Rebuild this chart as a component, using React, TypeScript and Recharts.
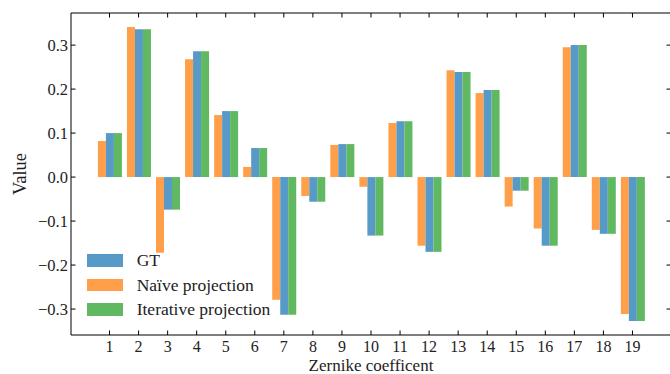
import React from 'react';
import { BarChart, Bar, XAxis, YAxis, Legend, Label } from 'recharts';

// Zernike coefficients 1..19
const categories = ['1', '2', '3', '4', '5', '6', '7', '8', '9', '10', '11', '12', '13', '14', '15', '16', '17', '18', '19'];
const naiveValues = [0.082, 0.341, -0.172, 0.268, 0.141, 0.023, -0.279, -0.043, 0.073, -0.022, 0.123, -0.156, 0.243, 0.191, -0.067, -0.117, 0.295, -0.12, -0.311];
const gtValues = [0.1, 0.336, -0.074, 0.286, 0.15, 0.066, -0.313, -0.056, 0.075, -0.133, 0.127, -0.17, 0.239, 0.198, -0.031, -0.156, 0.3, -0.129, -0.327];
const iterativeValues = [0.1, 0.336, -0.074, 0.286, 0.15, 0.066, -0.313, -0.056, 0.075, -0.133, 0.127, -0.17, 0.239, 0.198, -0.031, -0.156, 0.3, -0.129, -0.327];
const yTicks = [-0.3, -0.2, -0.1, 0, 0.1, 0.2, 0.3];

const data = categories.map((c, i) => ({
  name: c,
  naive: naiveValues[i],
  gt: gtValues[i],
  iterative: iterativeValues[i],
}));

const FONT = '"Liberation Serif", "DejaVu Serif", serif';
const TEXT = '#222';
const BLUE = '#5799c7';
const ORANGE = '#ff9f4a';
const GREEN = '#60b860';
const TICK_LEN = 4.5;

const fmt = (v: number) => v.toFixed(1).replace('-', '\u2212');

const LeftTick = ({ x, y, payload }: any) => (
  <g>
    <line x1={x} y1={y} x2={x + TICK_LEN} y2={y} stroke="#000" />
    <text x={x - 3} y={y} textAnchor="end" dominantBaseline="central" style={{ fontFamily: FONT, fontSize: 16.5 }} fill={TEXT}>
      {fmt(payload.value)}
    </text>
  </g>
);

const RightTick = ({ x, y }: any) => (
  <line x1={x - TICK_LEN} y1={y} x2={x} y2={y} stroke="#000" />
);

const BottomTick = ({ x, y, payload }: any) => (
  <g>
    <line x1={x} y1={y} x2={x} y2={y - TICK_LEN} stroke="#000" />
    <text x={x} y={y + 11.5} textAnchor="middle" dominantBaseline="central" style={{ fontFamily: FONT, fontSize: 16 }} fill={TEXT}>
      {payload.value}
    </text>
  </g>
);

const TopTick = ({ x, y }: any) => (
  <line x1={x} y1={y} x2={x} y2={y + TICK_LEN} stroke="#000" />
);

const legendItems = [
  { label: 'GT', color: BLUE },
  { label: 'Naïve projection', color: ORANGE },
  { label: 'Iterative projection', color: GREEN },
];

const LegendContent = () => (
  <div style={{ fontFamily: FONT, fontSize: 17.5, color: TEXT }}>
    {legendItems.map((it) => (
      <div key={it.label} style={{ display: 'flex', alignItems: 'center', height: 24.7 }}>
        <div style={{ width: 36.6, height: 12.7, background: it.color, marginRight: 13.4 }} />
        <span style={{ whiteSpace: 'nowrap' }}>{it.label}</span>
      </div>
    ))}
  </div>
);

export default function App() {
  return (
    <div style={{ position: 'absolute', left: 0, top: 0, width: 670, height: 374, overflow: 'hidden', background: '#fff' }}>
      <BarChart
        width={680}
        height={374}
        data={data}
        margin={{ top: 0, right: 0, bottom: 0, left: 0 }}
        barCategoryGap="10%"
        barGap={0}
      >
        <XAxis
          xAxisId="bottom"
          dataKey="name"
          height={39}
          padding={{ left: 24, right: 24 }}
          tickSize={0}
          tickMargin={0}
          tickLine={false}
          axisLine={{ stroke: '#000' }}
          tick={<BottomTick />}
          interval={0}
        >
          <Label
            content={({ viewBox }: any) => (
              <text
                x={viewBox.x + viewBox.width / 2}
                y={viewBox.y + 30}
                textAnchor="middle"
                dominantBaseline="central"
                style={{ fontFamily: FONT, fontSize: 17 }}
                fill={TEXT}
              >
                Zernike coefficent
              </text>
            )}
          />
        </XAxis>
        <XAxis
          xAxisId="top"
          orientation="top"
          dataKey="name"
          height={13}
          padding={{ left: 24, right: 24 }}
          tickSize={0}
          tickMargin={0}
          tickLine={false}
          axisLine={{ stroke: '#000' }}
          tick={<TopTick />}
          interval={0}
        />
        <YAxis
          yAxisId="left"
          width={71}
          domain={[-0.359, 0.373]}
          ticks={yTicks}
          allowDataOverflow
          tickSize={0}
          tickMargin={0}
          tickLine={false}
          axisLine={{ stroke: '#000' }}
          tick={<LeftTick />}
        >
          <Label
            content={({ viewBox }: any) => (
              <text
                x={20}
                y={viewBox.y + viewBox.height / 2}
                textAnchor="middle"
                dominantBaseline="central"
                style={{ fontFamily: FONT, fontSize: 18.5 }}
                fill={TEXT}
                transform={`rotate(-90 20 ${viewBox.y + viewBox.height / 2})`}
              >
                Value
              </text>
            )}
          />
        </YAxis>
        <YAxis
          yAxisId="right"
          orientation="right"
          width={9}
          domain={[-0.359, 0.373]}
          ticks={yTicks}
          allowDataOverflow
          tickSize={0}
          tickMargin={0}
          tickLine={false}
          axisLine={{ stroke: '#000' }}
          tick={<RightTick />}
        />
        <Legend
          layout="vertical"
          align="center"
          verticalAlign="middle"
          content={<LegendContent />}
          wrapperStyle={{ left: 86.7, top: 248, width: 'auto' }}
        />
        <Bar xAxisId="bottom" yAxisId="left" dataKey="naive" name="Naïve projection" fill={ORANGE} isAnimationActive={false} />
        <Bar xAxisId="bottom" yAxisId="left" dataKey="gt" name="GT" fill={BLUE} isAnimationActive={false} />
        <Bar xAxisId="bottom" yAxisId="left" dataKey="iterative" name="Iterative projection" fill={GREEN} isAnimationActive={false} />
      </BarChart>
    </div>
  );
}
